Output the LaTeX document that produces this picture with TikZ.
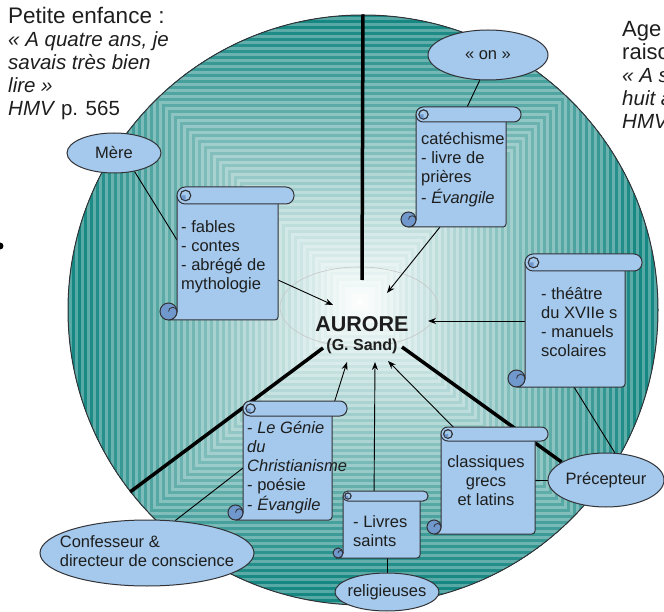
\documentclass[tikz,border=0pt]{standalone}
\usepackage{fontspec}
\setmainfont{Liberation Sans}
\usetikzlibrary{shapes.geometric,arrows.meta,calc}
\definecolor{tealC}{RGB}{22,135,130}
\definecolor{paleblue}{RGB}{164,201,236}
\definecolor{curlblue}{RGB}{112,152,204}
\definecolor{edgegray}{RGB}{50,50,55}
\definecolor{txt}{RGB}{30,30,30}
\pgfdeclarelayer{bg}
\pgfdeclarelayer{lines}
\pgfsetlayers{bg,lines,main}

\tikzset{
  scrollst/.style={draw=edgegray, line width=1pt, fill=paleblue},
  ell/.style={ellipse, draw=edgegray, line width=1pt, fill=paleblue, inner sep=0pt, text=txt, font=\fontsize{16.5}{19}\selectfont},
  stxt/.style={anchor=base west, inner sep=0pt, text=txt, font=\fontsize{16.5}{19}\selectfont},
  bigtxt/.style={anchor=base west, inner sep=0pt, text=txt, font=\fontsize{20.5}{23}\selectfont},
  arr/.style={draw=black, line width=0.9pt, -{Stealth[length=8pt,width=6pt]}},
  conn/.style={draw=black, line width=0.9pt},
  thickl/.style={draw=black, line width=3.5pt}
}

% name L T R R2 B h
\newcommand\drawscroll[7]{%
  \pgfmathsetmacro\sr{#7/2}%
  \pgfmathsetmacro\sra{0.48*#7}%
  \pgfmathsetmacro\sTh{#3+#7}%
  \pgfmathsetmacro\sTr{#3+#7/2}%
  \node[inner sep=0pt, outer sep=0pt, minimum width={(#4-#2)*1pt}, minimum height={(#6-#3-#7)*1pt}, anchor=north west] (#1) at (#2,\sTh) {};
  \filldraw[scrollst] (#2,\sTr) -- (#2,{#6-\sr}) arc[start angle=0,end angle=90,radius=\sr] -- ({#4-3},#6) arc[start angle=90,end angle=0,radius=3] -- (#4,\sTr) -- cycle;
  \filldraw[scrollst, rounded corners=\sra pt] (#2,#3) rectangle (#5,\sTh);
  \filldraw[scrollst] ({#2+\sr},\sTr) circle[radius={0.62*\sr}];
  \fill[curlblue] ({#2+0.38*\sr},\sTr) arc[start angle=180,end angle=90,radius={0.62*\sr}] -- ({#2+\sr},\sTr) -- cycle;
  \draw[edgegray, line width=0.7pt] ({#2+\sr},\sTr) circle[radius={0.62*\sr}];
  \filldraw[scrollst, fill=curlblue] ({#2-\sr},{#6-\sr}) circle[radius=\sr];
  \draw[edgegray, line width=0.8pt] ({#2-\sr},{#6-\sr}) arc[start angle=180,end angle=360,radius={\sr/2}];
}

\begin{document}
\begin{tikzpicture}[x=1pt,y=-1pt]
\useasboundingbox (0,0) rectangle (664,612);

% ---------- background disc ----------
\begin{pgfonlayer}{bg}
\begin{scope}
  \clip (363,310) circle[radius=295];
  \foreach \i in {102,101,...,1}{
    \pgfmathsetmacro\hs{3*\i}
    \pgfmathsetmacro\pp{100*min(1,\hs/280)*(mod(\i,2)==0 ? 1 : 0.72)}
    \fill[tealC!\pp!white] ({360-\hs},{302-\hs}) rectangle ({360+\hs},{302+\hs});
  }
\end{scope}
\node[circle, draw=edgegray, line width=1pt, minimum size=590pt, inner sep=0pt] (big) at (363,310) {};
\node[ellipse, draw=black!22, line width=0.6pt, minimum width=158pt, minimum height=80pt, inner sep=0pt] (aur) at (359,307) {};
\end{pgfonlayer}

% ---------- ellipses ----------
\node[ell, minimum width=94pt, minimum height=40pt] (mere) at (114,153) {\makebox[0pt]{Mère}};
\node[ell, minimum width=120pt, minimum height=50pt] (on) at (488,55) {\makebox[0pt]{«~on~»}};
\node[ell, minimum width=116pt, minimum height=54pt] (prec) at (606,480) {\makebox[0pt]{Précepteur}};
\node[ell, minimum width=214pt, minimum height=66pt] (conf) at (147,553) {\makebox[0pt]{\begin{tabular}{@{}l@{}}Confesseur \&\\directeur de conscience\end{tabular}}};
\node[ell, minimum width=104pt, minimum height=38pt] (relig) at (387,592) {\makebox[0pt]{religieuses}};

% ---------- scrolls ----------
\drawscroll{s1}{177}{187}{278}{294}{320}{17}
\drawscroll{s2}{416}{107}{506}{521}{227}{15}
\drawscroll{s3}{525}{254}{625}{642}{387}{17}
\drawscroll{s4}{243}{401}{332}{347}{520}{15}
\drawscroll{s5}{343}{491}{420}{428}{558}{10}
\drawscroll{s6}{441}{427}{535}{548}{534}{14}

\node[stxt] (t1) at (181,233) {\begin{tabular}[t]{@{}l@{}}- fables\\- contes\\- abrégé de\\mythologie\end{tabular}};
\node[stxt] (t2) at (421,145) {\begin{tabular}[t]{@{}l@{}}catéchisme\\- livre de\\prières\\- \textit{Évangile}\end{tabular}};
\node[stxt] (t3) at (541,300) {\begin{tabular}[t]{@{}l@{}}- théâtre\\du XVIIe s\\- manuels\\scolaires\end{tabular}};
\node[stxt] (t4) at (247,433) {\begin{tabular}[t]{@{}l@{}}- \textit{Le Génie}\\\textit{du}\\\textit{Christianisme}\\- poésie\\- \textit{Évangile}\end{tabular}};
\node[stxt] (t5) at (353,527) {\begin{tabular}[t]{@{}l@{}}- Livres\\saints\end{tabular}};
\node[stxt, anchor=base] (t6) at (486,467) {\begin{tabular}[t]{@{}c@{}}classiques\\grecs\\et latins\end{tabular}};

% ---------- centre ----------
\node[anchor=base, inner sep=0pt, text=txt, font=\bfseries\fontsize{16}{18}\selectfont] (aurt) at (362,332)
  {\begin{tabular}[t]{@{}c@{}}{\fontsize{21.5}{18}\selectfont AURORE}\\(G. Sand)\end{tabular}};

% ---------- free texts ----------
\node[bigtxt] (pe) at (8,24) {\begin{tabular}[t]{@{}l@{}}{\fontsize{22.5}{23}\selectfont Petite enfance :}\\\textit{« A quatre ans, je}\\\textit{savais très bien}\\\textit{lire »}\\\textit{HMV} p. 565\end{tabular}};
\node[bigtxt] (age) at (622,37) {\begin{tabular}[t]{@{}l@{}}{\fontsize{22}{23}\selectfont Age de}\\{\fontsize{22}{23}\selectfont raison :}\\\textit{« A sept ou}\\\textit{huit ans »}\\\textit{HMV} p.\end{tabular}};
\fill[black] (0,246) circle[radius=3.5];

% ---------- connectors ----------
\begin{pgfonlayer}{lines}
\coordinate (k1) at (362,280);
\coordinate (k2) at (323,348);
\coordinate (k3) at (402,347);
\draw[thickl] (big.north) -- (k1);
\draw[thickl] (k2) -- (big.218.5);
\draw[thickl] (k3) -- (prec.158);

\coordinate (a1) at (333,305);
\coordinate (a2) at (387,293);
\coordinate (a3) at (428,321);
\coordinate (a4) at (347,362);
\coordinate (a5) at (375,362);
\coordinate (a6) at (388,361);
\draw[arr] ([yshift=-18pt]s1.east) -- (a1);
\draw[arr] ([xshift=-21pt]s2.south) -- (a2);
\draw[arr] ([yshift=8pt]s3.west) -- (a3);
\draw[arr] ([xshift=-2pt]s4.north east) -- (a4);
\draw[arr] ([xshift=-7.5pt]s5.north) -- (a5);
\draw[arr] ([xshift=-21pt]s6.north) -- (a6);

\draw[conn] (mere.-42) -- ([yshift=22pt]s1.west);
\draw[conn] (on.-108) -- ([xshift=-1pt]s2.north);
\draw[conn] (prec.72) -- ([xshift=-1pt]s3.south);
\draw[conn] (prec.west) -- (prec.west -| s6.east);
\draw[conn] (conf.49) -- (s4.west);
\draw[conn] (relig.north) -- (relig.north |- s5.south);
\end{pgfonlayer}
\end{tikzpicture}
\end{document}
